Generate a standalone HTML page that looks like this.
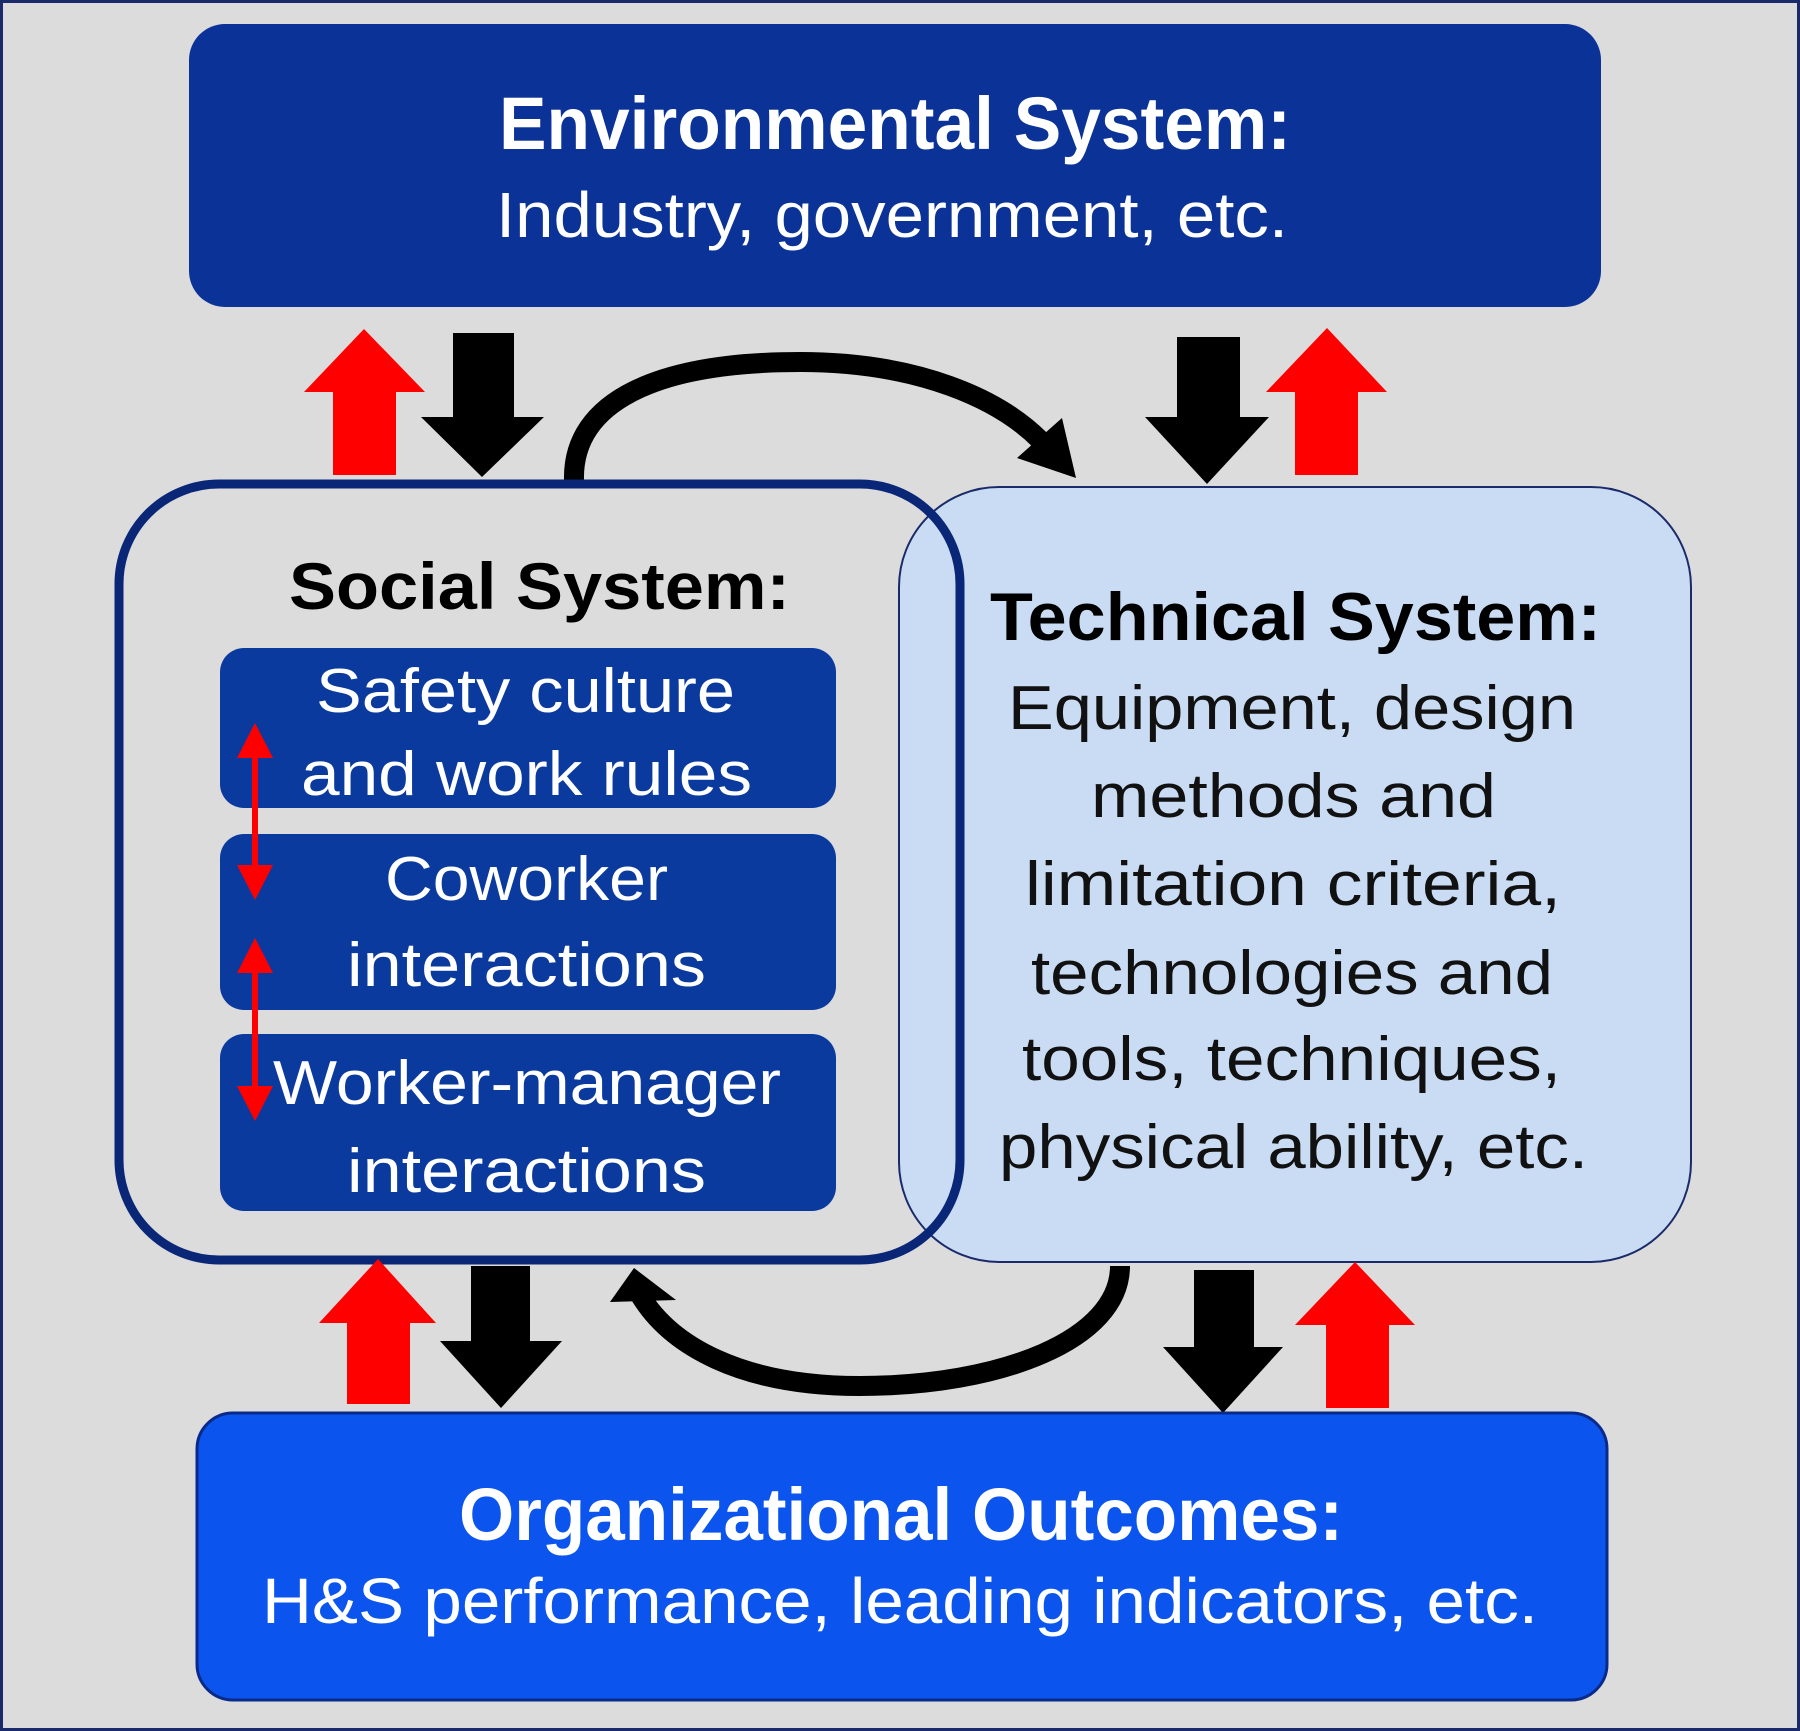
<!DOCTYPE html>
<html><head><meta charset="utf-8"><style>
html,body{margin:0;padding:0;background:#dcdcdc;}
svg{display:block;}
text{font-family:"Liberation Sans",sans-serif;}
</style></head><body>
<svg width="1800" height="1731" viewBox="0 0 1800 1731" xmlns="http://www.w3.org/2000/svg">
<rect x="0" y="0" width="1800" height="1731" fill="#dcdcdc"/>
<rect x="1.5" y="1.5" width="1797" height="1728" fill="none" stroke="#1a2a6a" stroke-width="3"/>

<!-- Environmental -->
<rect x="189" y="24" width="1412" height="283" rx="36" fill="#0b3296"/>
<text x="499" y="149" font-size="74" font-weight="bold" fill="#fff" textLength="792" lengthAdjust="spacingAndGlyphs">Environmental System:</text>
<text x="496" y="237" font-size="64" fill="#fff" textLength="792" lengthAdjust="spacingAndGlyphs">Industry, government, etc.</text>

<!-- Top arrows -->
<polygon points="333,475 333,392 304,392 364,329 425,392 396,392 396,475" fill="#f00"/>
<polygon points="453,333 514,333 514,417 544,417 482,477 421,417 453,417" fill="#000"/>
<polygon points="1177,337 1240,337 1240,417 1269,417 1207,484 1145,417 1177,417" fill="#000"/>
<polygon points="1295,475 1295,392 1266,392 1327,328 1387,392 1358,392 1358,475" fill="#f00"/>
<path d="M574,480 C 572,400 660,362 800,362 C 920,362 1000,400 1040,440" fill="none" stroke="#000" stroke-width="20"/>
<polygon points="1017,458 1062,418 1076,478" fill="#000"/>

<!-- Social fill -->
<rect x="119" y="484" width="841" height="776" rx="100" fill="#dcdcdc"/>
<!-- Technical -->
<rect x="899" y="487" width="792" height="775" rx="100" fill="#c9dcf3" stroke="#1a2a6a" stroke-width="2"/>
<!-- Social border -->
<rect x="119" y="484" width="841" height="776" rx="100" fill="none" stroke="#0a2676" stroke-width="9"/>

<text x="289" y="609" font-size="66" font-weight="bold" fill="#000" textLength="501" lengthAdjust="spacingAndGlyphs">Social System:</text>

<rect x="220" y="648" width="616" height="160" rx="24" fill="#0b3a9e"/>
<rect x="220" y="834" width="616" height="176" rx="24" fill="#0b3a9e"/>
<rect x="220" y="1034" width="616" height="177" rx="24" fill="#0b3a9e"/>
<g font-size="62" fill="#fff">
<text x="316" y="712" textLength="419" lengthAdjust="spacingAndGlyphs">Safety culture</text>
<text x="301" y="795" textLength="451" lengthAdjust="spacingAndGlyphs">and work rules</text>
<text x="385" y="900" textLength="283" lengthAdjust="spacingAndGlyphs">Coworker</text>
<text x="347" y="986" textLength="359" lengthAdjust="spacingAndGlyphs">interactions</text>
<text x="273" y="1104" textLength="508" lengthAdjust="spacingAndGlyphs">Worker-manager</text>
<text x="347" y="1192" textLength="359" lengthAdjust="spacingAndGlyphs">interactions</text>
</g>
<!-- red double arrows -->
<g fill="#f00">
<rect x="252" y="745" width="6" height="135"/>
<polygon points="255,723 237,758 273,758"/>
<polygon points="255,900 237,865 273,865"/>
<rect x="252" y="960" width="6" height="140"/>
<polygon points="255,938 237,973 273,973"/>
<polygon points="255,1121 237,1086 273,1086"/>
</g>

<!-- Technical text -->
<text x="990" y="640" font-size="68" font-weight="bold" fill="#000" textLength="611" lengthAdjust="spacingAndGlyphs">Technical System:</text>
<g font-size="62" fill="#111">
<text x="1008" y="729" textLength="568" lengthAdjust="spacingAndGlyphs">Equipment, design</text>
<text x="1091" y="817" textLength="405" lengthAdjust="spacingAndGlyphs">methods and</text>
<text x="1025" y="905" textLength="536" lengthAdjust="spacingAndGlyphs">limitation criteria,</text>
<text x="1031" y="994" textLength="522" lengthAdjust="spacingAndGlyphs">technologies and</text>
<text x="1022" y="1080" textLength="539" lengthAdjust="spacingAndGlyphs">tools, techniques,</text>
<text x="999" y="1168" textLength="589" lengthAdjust="spacingAndGlyphs">physical ability, etc.</text>
</g>

<!-- Bottom arrows -->
<polygon points="347,1404 347,1323 319,1323 378,1259 436,1323 410,1323 410,1404" fill="#f00"/>
<polygon points="471,1266 530,1266 530,1341 562,1341 501,1408 440,1341 471,1341" fill="#000"/>
<polygon points="1194,1270 1254,1270 1254,1347 1283,1347 1223,1413 1163,1347 1194,1347" fill="#000"/>
<polygon points="1326,1408 1326,1325 1295,1325 1355,1262 1415,1325 1389,1325 1389,1408" fill="#f00"/>
<path d="M1120,1266 C 1120,1340 1000,1386 860,1386 C 740,1386 670,1345 640,1295" fill="none" stroke="#000" stroke-width="20"/>
<polygon points="634,1268 610,1302 676,1300" fill="#000"/>

<!-- Bottom box -->
<rect x="197" y="1413" width="1410" height="287" rx="36" fill="#0b55ee" stroke="#0a2a8a" stroke-width="3"/>
<text x="459" y="1540" font-size="74" font-weight="bold" fill="#fff" textLength="884" lengthAdjust="spacingAndGlyphs">Organizational Outcomes:</text>
<text x="262" y="1623" font-size="64" fill="#fff" textLength="1276" lengthAdjust="spacingAndGlyphs">H&amp;S performance, leading indicators, etc.</text>
</svg>
</body></html>
